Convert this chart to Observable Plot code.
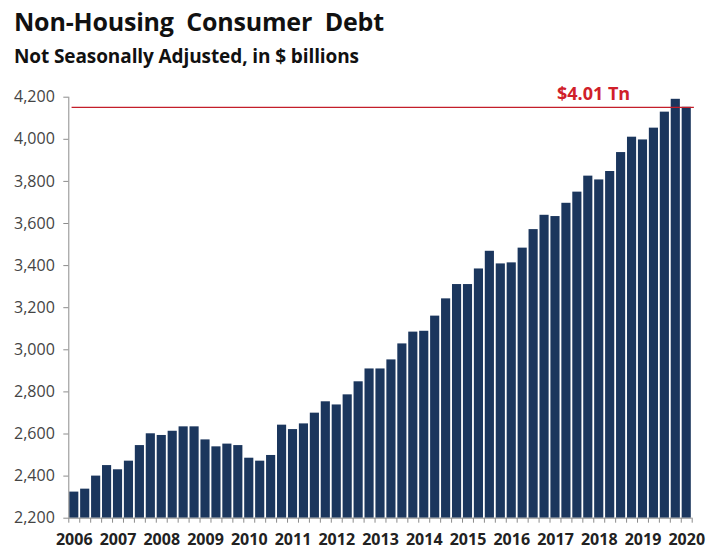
<!DOCTYPE html>
<html><head><meta charset="utf-8">
<script src="https://cdn.jsdelivr.net/npm/d3@7"></script>
<script src="https://cdn.jsdelivr.net/npm/@observablehq/plot@0.6"></script>
<style>
body{margin:0;background:#fff;}
#wrap{width:709px;height:559px;position:relative;font-family:"Open Sans",sans-serif;overflow:hidden;}
#title{position:absolute;left:14px;top:4px;font-size:25px;font-weight:700;color:#111;white-space:pre;letter-spacing:-0.2px;}
#sub{position:absolute;left:14px;top:43px;font-size:19px;font-weight:700;color:#111;white-space:pre;letter-spacing:-0.1px;}
#chart{position:absolute;left:0;top:0;}
</style></head><body>
<div id="wrap"><div id="chart"></div><div id="title">Non-Housing  Consumer  Debt</div><div id="sub">Not Seasonally Adjusted, in $ billions</div></div>
<script>
const years = [2006,2007,2008,2009,2010,2011,2012,2013,2014,2015,2016,2017,2018,2019,2020];
const values = [
  2324,2338,2400,2450, 2430,2471,2545,2601, 2593,2613,2634,2634,
  2572,2539,2552,2545, 2485,2471,2498,2642, 2621,2648,2699,2753,
  2738,2786,2848,2909, 2909,2952,3028,3084, 3088,3160,3242,3310,
  3310,3384,3468,3408, 3413,3483,3571,3639, 3633,3696,3749,3825,
  3807,3847,3937,4010, 3997,4053,4129,4190, 4152
];
const yTicks = [2200,2400,2600,2800,3000,3200,3400,3600,3800,4000,4200];
const peakLabel = "$4.01 Tn";

const data = values.map((v, i) => ({i, year: years[Math.floor(i / 4)], value: v}));
const lastValue = values[values.length - 1];
const yMin = yTicks[0], yMax = yTicks[yTicks.length - 1];

const plot = Plot.plot({
  width: 709, height: 559,
  marginTop: 96.7, marginBottom: 41.3, marginLeft: 68.3, marginRight: 17.3,
  x: {domain: [0, values.length]},
  y: {domain: [yMin, yMax]},
  style: {fontFamily: "'Open Sans', sans-serif", background: "transparent", overflow: "visible"},
  marks: [
    Plot.rectY(data, {x1: "i", x2: d => d.i + 1, y1: () => yMin, y2: "value", fill: "#1b365d", insetLeft: 0.9, insetRight: 0.9}),
    Plot.ruleX([0], {stroke: "#8c8c8c"}),
    Plot.ruleY([yMin], {stroke: "#8c8c8c"}),
    Plot.axisY({ticks: yTicks, tickFormat: d3.format(","), tickSize: 5, tickPadding: 9, fontSize: 16, color: "#444", stroke: "#8c8c8c", label: null}),
    Plot.axisX({ticks: d3.range(0, values.length + 1), tickFormat: () => "", tickSize: 5, stroke: "#8c8c8c", label: null}),
    Plot.axisX({ticks: years.map((y, k) => k * 4 + 0.5), tickFormat: t => String(years[Math.round((t - 0.5) / 4)]), tickSize: 0, tickPadding: 15, fontSize: 16, fontWeight: 700, color: "#222", label: null}),
    Plot.ruleY([lastValue], {x1: () => 0.3, x2: () => values.length + 0.2, stroke: "#c41e2a", strokeWidth: 1.2}),
    Plot.text([peakLabel], {frameAnchor: "right", y: () => lastValue, text: d => d, textAnchor: "end", dx: -62, dy: -13, fill: "#d0202a", fontSize: 18, fontWeight: 700})
  ]
});
document.getElementById("chart").appendChild(plot);
</script>
</body></html>
